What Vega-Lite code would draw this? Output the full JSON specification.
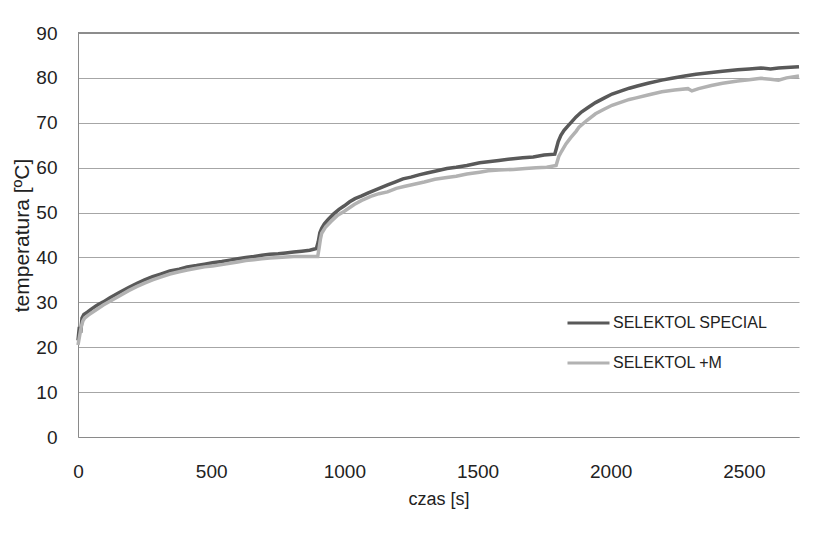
{
  "$schema": "https://vega.github.io/schema/vega-lite/v6.json",
  "width": 721,
  "height": 404,
  "autosize": {"type": "none"},
  "padding": {"left": 78, "top": 33, "right": 33, "bottom": 106},
  "background": "white",
  "config": {
    "view": {"stroke": null},
    "font": "Liberation Sans, sans-serif",
    "axis": {
      "labelFont": "Liberation Sans, sans-serif",
      "titleFont": "Liberation Sans, sans-serif",
      "labelColor": "#222222",
      "titleColor": "#222222",
      "titleFontWeight": "normal",
      "labelFontSize": 19,
      "ticks": false,
      "domainColor": "#8a8a8a",
      "gridColor": "#a6a6a6",
      "gridWidth": 1
    },
    "legend": {
      "labelFont": "Liberation Sans, sans-serif",
      "labelFontSize": 16,
      "labelColor": "#222222",
      "labelLimit": 0
    }
  },
  "data": {
    "values": [
      {"series": "SELEKTOL SPECIAL", "t": 0, "temp": 21.5},
      {"series": "SELEKTOL SPECIAL", "t": 5, "temp": 24.5},
      {"series": "SELEKTOL SPECIAL", "t": 10, "temp": 23.2},
      {"series": "SELEKTOL SPECIAL", "t": 15, "temp": 26.5},
      {"series": "SELEKTOL SPECIAL", "t": 22, "temp": 27.3},
      {"series": "SELEKTOL SPECIAL", "t": 35, "temp": 27.8},
      {"series": "SELEKTOL SPECIAL", "t": 50, "temp": 28.5},
      {"series": "SELEKTOL SPECIAL", "t": 70, "temp": 29.3},
      {"series": "SELEKTOL SPECIAL", "t": 95, "temp": 30.1},
      {"series": "SELEKTOL SPECIAL", "t": 120, "temp": 31.0},
      {"series": "SELEKTOL SPECIAL", "t": 155, "temp": 32.2},
      {"series": "SELEKTOL SPECIAL", "t": 190, "temp": 33.3},
      {"series": "SELEKTOL SPECIAL", "t": 220, "temp": 34.2},
      {"series": "SELEKTOL SPECIAL", "t": 250, "temp": 35.0},
      {"series": "SELEKTOL SPECIAL", "t": 280, "temp": 35.7},
      {"series": "SELEKTOL SPECIAL", "t": 310, "temp": 36.3},
      {"series": "SELEKTOL SPECIAL", "t": 345, "temp": 37.0},
      {"series": "SELEKTOL SPECIAL", "t": 380, "temp": 37.4},
      {"series": "SELEKTOL SPECIAL", "t": 410, "temp": 37.9},
      {"series": "SELEKTOL SPECIAL", "t": 445, "temp": 38.2},
      {"series": "SELEKTOL SPECIAL", "t": 475, "temp": 38.5},
      {"series": "SELEKTOL SPECIAL", "t": 505, "temp": 38.8},
      {"series": "SELEKTOL SPECIAL", "t": 540, "temp": 39.1},
      {"series": "SELEKTOL SPECIAL", "t": 570, "temp": 39.4},
      {"series": "SELEKTOL SPECIAL", "t": 600, "temp": 39.7},
      {"series": "SELEKTOL SPECIAL", "t": 630, "temp": 40.0},
      {"series": "SELEKTOL SPECIAL", "t": 660, "temp": 40.2},
      {"series": "SELEKTOL SPECIAL", "t": 690, "temp": 40.5},
      {"series": "SELEKTOL SPECIAL", "t": 720, "temp": 40.7},
      {"series": "SELEKTOL SPECIAL", "t": 752, "temp": 40.8},
      {"series": "SELEKTOL SPECIAL", "t": 780, "temp": 41.0},
      {"series": "SELEKTOL SPECIAL", "t": 810, "temp": 41.2},
      {"series": "SELEKTOL SPECIAL", "t": 840, "temp": 41.4},
      {"series": "SELEKTOL SPECIAL", "t": 870, "temp": 41.6},
      {"series": "SELEKTOL SPECIAL", "t": 895, "temp": 42.0},
      {"series": "SELEKTOL SPECIAL", "t": 902, "temp": 43.5},
      {"series": "SELEKTOL SPECIAL", "t": 908, "temp": 45.5},
      {"series": "SELEKTOL SPECIAL", "t": 915, "temp": 46.5},
      {"series": "SELEKTOL SPECIAL", "t": 925, "temp": 47.5},
      {"series": "SELEKTOL SPECIAL", "t": 940, "temp": 48.5},
      {"series": "SELEKTOL SPECIAL", "t": 960, "temp": 49.7},
      {"series": "SELEKTOL SPECIAL", "t": 980, "temp": 50.7},
      {"series": "SELEKTOL SPECIAL", "t": 1000, "temp": 51.5},
      {"series": "SELEKTOL SPECIAL", "t": 1020, "temp": 52.4},
      {"series": "SELEKTOL SPECIAL", "t": 1040, "temp": 53.1},
      {"series": "SELEKTOL SPECIAL", "t": 1065, "temp": 53.7},
      {"series": "SELEKTOL SPECIAL", "t": 1090, "temp": 54.4},
      {"series": "SELEKTOL SPECIAL", "t": 1115, "temp": 55.0},
      {"series": "SELEKTOL SPECIAL", "t": 1140, "temp": 55.6},
      {"series": "SELEKTOL SPECIAL", "t": 1165, "temp": 56.2},
      {"series": "SELEKTOL SPECIAL", "t": 1190, "temp": 56.8},
      {"series": "SELEKTOL SPECIAL", "t": 1220, "temp": 57.5},
      {"series": "SELEKTOL SPECIAL", "t": 1250, "temp": 57.9},
      {"series": "SELEKTOL SPECIAL", "t": 1280, "temp": 58.4},
      {"series": "SELEKTOL SPECIAL", "t": 1310, "temp": 58.8},
      {"series": "SELEKTOL SPECIAL", "t": 1340, "temp": 59.2},
      {"series": "SELEKTOL SPECIAL", "t": 1385, "temp": 59.8},
      {"series": "SELEKTOL SPECIAL", "t": 1420, "temp": 60.1},
      {"series": "SELEKTOL SPECIAL", "t": 1460, "temp": 60.5},
      {"series": "SELEKTOL SPECIAL", "t": 1508, "temp": 61.1},
      {"series": "SELEKTOL SPECIAL", "t": 1540, "temp": 61.3},
      {"series": "SELEKTOL SPECIAL", "t": 1580, "temp": 61.6},
      {"series": "SELEKTOL SPECIAL", "t": 1634, "temp": 62.0},
      {"series": "SELEKTOL SPECIAL", "t": 1670, "temp": 62.2},
      {"series": "SELEKTOL SPECIAL", "t": 1709, "temp": 62.4},
      {"series": "SELEKTOL SPECIAL", "t": 1750, "temp": 62.8},
      {"series": "SELEKTOL SPECIAL", "t": 1790, "temp": 63.0},
      {"series": "SELEKTOL SPECIAL", "t": 1797, "temp": 64.5},
      {"series": "SELEKTOL SPECIAL", "t": 1803, "temp": 65.8},
      {"series": "SELEKTOL SPECIAL", "t": 1813, "temp": 67.2},
      {"series": "SELEKTOL SPECIAL", "t": 1825, "temp": 68.3},
      {"series": "SELEKTOL SPECIAL", "t": 1838, "temp": 69.2},
      {"series": "SELEKTOL SPECIAL", "t": 1855, "temp": 70.3},
      {"series": "SELEKTOL SPECIAL", "t": 1870, "temp": 71.3},
      {"series": "SELEKTOL SPECIAL", "t": 1890, "temp": 72.4},
      {"series": "SELEKTOL SPECIAL", "t": 1915, "temp": 73.4},
      {"series": "SELEKTOL SPECIAL", "t": 1943, "temp": 74.5},
      {"series": "SELEKTOL SPECIAL", "t": 1975, "temp": 75.5},
      {"series": "SELEKTOL SPECIAL", "t": 2005, "temp": 76.4},
      {"series": "SELEKTOL SPECIAL", "t": 2040, "temp": 77.1},
      {"series": "SELEKTOL SPECIAL", "t": 2070, "temp": 77.7},
      {"series": "SELEKTOL SPECIAL", "t": 2100, "temp": 78.2},
      {"series": "SELEKTOL SPECIAL", "t": 2140, "temp": 78.8},
      {"series": "SELEKTOL SPECIAL", "t": 2192, "temp": 79.5},
      {"series": "SELEKTOL SPECIAL", "t": 2230, "temp": 79.9},
      {"series": "SELEKTOL SPECIAL", "t": 2278, "temp": 80.4},
      {"series": "SELEKTOL SPECIAL", "t": 2320, "temp": 80.8},
      {"series": "SELEKTOL SPECIAL", "t": 2378, "temp": 81.2},
      {"series": "SELEKTOL SPECIAL", "t": 2420, "temp": 81.5},
      {"series": "SELEKTOL SPECIAL", "t": 2477, "temp": 81.8},
      {"series": "SELEKTOL SPECIAL", "t": 2520, "temp": 82.0},
      {"series": "SELEKTOL SPECIAL", "t": 2564, "temp": 82.2},
      {"series": "SELEKTOL SPECIAL", "t": 2600, "temp": 82.0},
      {"series": "SELEKTOL SPECIAL", "t": 2630, "temp": 82.2},
      {"series": "SELEKTOL SPECIAL", "t": 2660, "temp": 82.3},
      {"series": "SELEKTOL SPECIAL", "t": 2707, "temp": 82.5},
      {"series": "SELEKTOL +M", "t": 0, "temp": 20.5},
      {"series": "SELEKTOL +M", "t": 6, "temp": 22.5},
      {"series": "SELEKTOL +M", "t": 12, "temp": 24.5},
      {"series": "SELEKTOL +M", "t": 18, "temp": 25.8},
      {"series": "SELEKTOL +M", "t": 25, "temp": 26.5},
      {"series": "SELEKTOL +M", "t": 40, "temp": 27.2},
      {"series": "SELEKTOL +M", "t": 60, "temp": 28.0},
      {"series": "SELEKTOL +M", "t": 95, "temp": 29.4},
      {"series": "SELEKTOL +M", "t": 125, "temp": 30.4},
      {"series": "SELEKTOL +M", "t": 160, "temp": 31.6},
      {"series": "SELEKTOL +M", "t": 190, "temp": 32.6},
      {"series": "SELEKTOL +M", "t": 220, "temp": 33.5},
      {"series": "SELEKTOL +M", "t": 250, "temp": 34.3},
      {"series": "SELEKTOL +M", "t": 280, "temp": 35.0},
      {"series": "SELEKTOL +M", "t": 310, "temp": 35.6},
      {"series": "SELEKTOL +M", "t": 345, "temp": 36.3},
      {"series": "SELEKTOL +M", "t": 380, "temp": 36.8},
      {"series": "SELEKTOL +M", "t": 410, "temp": 37.2},
      {"series": "SELEKTOL +M", "t": 445, "temp": 37.6},
      {"series": "SELEKTOL +M", "t": 475, "temp": 37.9},
      {"series": "SELEKTOL +M", "t": 505, "temp": 38.1},
      {"series": "SELEKTOL +M", "t": 540, "temp": 38.4},
      {"series": "SELEKTOL +M", "t": 570, "temp": 38.7},
      {"series": "SELEKTOL +M", "t": 600, "temp": 39.0},
      {"series": "SELEKTOL +M", "t": 630, "temp": 39.3},
      {"series": "SELEKTOL +M", "t": 660, "temp": 39.5},
      {"series": "SELEKTOL +M", "t": 690, "temp": 39.7},
      {"series": "SELEKTOL +M", "t": 720, "temp": 39.9},
      {"series": "SELEKTOL +M", "t": 752, "temp": 40.0},
      {"series": "SELEKTOL +M", "t": 780, "temp": 40.1},
      {"series": "SELEKTOL +M", "t": 810, "temp": 40.2},
      {"series": "SELEKTOL +M", "t": 840, "temp": 40.2},
      {"series": "SELEKTOL +M", "t": 876, "temp": 40.2},
      {"series": "SELEKTOL +M", "t": 900, "temp": 40.2},
      {"series": "SELEKTOL +M", "t": 905, "temp": 42.0},
      {"series": "SELEKTOL +M", "t": 910, "temp": 44.0},
      {"series": "SELEKTOL +M", "t": 915, "temp": 45.4},
      {"series": "SELEKTOL +M", "t": 930, "temp": 46.8},
      {"series": "SELEKTOL +M", "t": 950, "temp": 48.0},
      {"series": "SELEKTOL +M", "t": 975, "temp": 49.4},
      {"series": "SELEKTOL +M", "t": 1000, "temp": 50.3},
      {"series": "SELEKTOL +M", "t": 1037, "temp": 51.8},
      {"series": "SELEKTOL +M", "t": 1065, "temp": 52.7},
      {"series": "SELEKTOL +M", "t": 1099, "temp": 53.6},
      {"series": "SELEKTOL +M", "t": 1130, "temp": 54.2},
      {"series": "SELEKTOL +M", "t": 1162, "temp": 54.6},
      {"series": "SELEKTOL +M", "t": 1195, "temp": 55.4},
      {"series": "SELEKTOL +M", "t": 1224, "temp": 55.8},
      {"series": "SELEKTOL +M", "t": 1262, "temp": 56.3},
      {"series": "SELEKTOL +M", "t": 1300, "temp": 56.8},
      {"series": "SELEKTOL +M", "t": 1340, "temp": 57.4},
      {"series": "SELEKTOL +M", "t": 1385, "temp": 57.8},
      {"series": "SELEKTOL +M", "t": 1420, "temp": 58.1},
      {"series": "SELEKTOL +M", "t": 1460, "temp": 58.6},
      {"series": "SELEKTOL +M", "t": 1508, "temp": 59.0},
      {"series": "SELEKTOL +M", "t": 1540, "temp": 59.3},
      {"series": "SELEKTOL +M", "t": 1580, "temp": 59.5},
      {"series": "SELEKTOL +M", "t": 1634, "temp": 59.6},
      {"series": "SELEKTOL +M", "t": 1680, "temp": 59.8},
      {"series": "SELEKTOL +M", "t": 1720, "temp": 60.0},
      {"series": "SELEKTOL +M", "t": 1760, "temp": 60.1},
      {"series": "SELEKTOL +M", "t": 1795, "temp": 60.5},
      {"series": "SELEKTOL +M", "t": 1800, "temp": 61.5},
      {"series": "SELEKTOL +M", "t": 1805, "temp": 62.5},
      {"series": "SELEKTOL +M", "t": 1815, "temp": 63.6},
      {"series": "SELEKTOL +M", "t": 1832, "temp": 65.3},
      {"series": "SELEKTOL +M", "t": 1850, "temp": 66.7},
      {"series": "SELEKTOL +M", "t": 1870, "temp": 68.1},
      {"series": "SELEKTOL +M", "t": 1881, "temp": 69.0},
      {"series": "SELEKTOL +M", "t": 1910, "temp": 70.5},
      {"series": "SELEKTOL +M", "t": 1943, "temp": 72.0},
      {"series": "SELEKTOL +M", "t": 1975, "temp": 73.0},
      {"series": "SELEKTOL +M", "t": 2005, "temp": 73.9},
      {"series": "SELEKTOL +M", "t": 2040, "temp": 74.6},
      {"series": "SELEKTOL +M", "t": 2070, "temp": 75.2},
      {"series": "SELEKTOL +M", "t": 2092, "temp": 75.5},
      {"series": "SELEKTOL +M", "t": 2140, "temp": 76.2},
      {"series": "SELEKTOL +M", "t": 2192, "temp": 76.9},
      {"series": "SELEKTOL +M", "t": 2240, "temp": 77.3},
      {"series": "SELEKTOL +M", "t": 2290, "temp": 77.6},
      {"series": "SELEKTOL +M", "t": 2305, "temp": 77.1},
      {"series": "SELEKTOL +M", "t": 2330, "temp": 77.6},
      {"series": "SELEKTOL +M", "t": 2378, "temp": 78.3},
      {"series": "SELEKTOL +M", "t": 2420, "temp": 78.8},
      {"series": "SELEKTOL +M", "t": 2477, "temp": 79.3},
      {"series": "SELEKTOL +M", "t": 2520, "temp": 79.6},
      {"series": "SELEKTOL +M", "t": 2564, "temp": 79.9},
      {"series": "SELEKTOL +M", "t": 2600, "temp": 79.7},
      {"series": "SELEKTOL +M", "t": 2630, "temp": 79.5},
      {"series": "SELEKTOL +M", "t": 2660, "temp": 80.0},
      {"series": "SELEKTOL +M", "t": 2707, "temp": 80.4}
    ]
  },
  "layer": [
    {
      "mark": {"type": "rule", "color": "#8c8c8c", "strokeWidth": 1},
      "encoding": {"y": {"datum": 90, "type": "quantitative", "scale": {"domain": [0, 90], "nice": false}}}
    },
    {
      "transform": [{"filter": "datum.series === 'SELEKTOL SPECIAL'"}],
      "mark": {"type": "line", "strokeWidth": 3.5},
      "encoding": {
        "x": {
          "field": "t",
          "type": "quantitative",
          "scale": {"domain": [0, 2707], "nice": false, "zero": true},
          "axis": {
            "title": "czas [s]",
            "titleFontSize": 18,
            "format": "d",
            "values": [0, 500, 1000, 1500, 2000, 2500],
            "grid": false,
            "labelPadding": 25,
            "titlePadding": 9,
            "labelFlush": false
          }
        },
        "y": {
          "field": "temp",
          "type": "quantitative",
          "scale": {"domain": [0, 90], "nice": false},
          "axis": {
            "title": "temperatura [ºC]",
            "titleFontSize": 21,
            "values": [0, 10, 20, 30, 40, 50, 60, 70, 80, 90],
            "grid": true,
            "labelPadding": 21,
            "titlePadding": 3
          }
        },
        "color": {
          "field": "series",
          "type": "nominal",
          "scale": {"domain": ["SELEKTOL SPECIAL", "SELEKTOL +M"], "range": ["#595959", "#b2b2b2"]},
          "legend": {
            "title": null,
            "orient": "none",
            "legendX": 488,
            "legendY": 280,
            "symbolType": "stroke",
            "symbolSize": 1764,
            "symbolStrokeWidth": 3,
            "labelOffset": 2,
            "clipHeight": 20,
            "rowPadding": 20
          }
        }
      }
    },
    {
      "transform": [{"filter": "datum.series === 'SELEKTOL +M'"}],
      "mark": {"type": "line", "strokeWidth": 3.5},
      "encoding": {
        "x": {"field": "t", "type": "quantitative"},
        "y": {"field": "temp", "type": "quantitative"},
        "color": {"field": "series", "type": "nominal"}
      }
    }
  ]
}
